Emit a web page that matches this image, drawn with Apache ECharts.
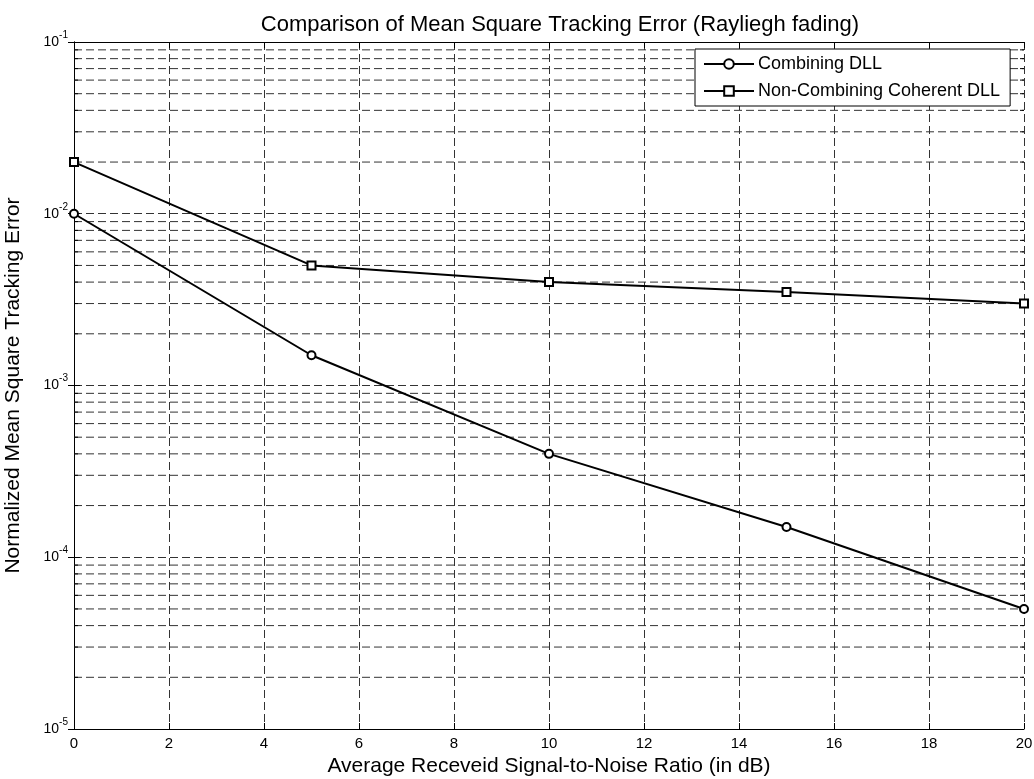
<!DOCTYPE html>
<html>
<head>
<meta charset="utf-8">
<script src="https://cdn.jsdelivr.net/npm/echarts@6/dist/echarts.min.js"></script>
<style>
  html, body { margin: 0; padding: 0; background: #fff; }
  #chart { width: 1034px; height: 779px; }
</style>
</head>
<body>
<div id="chart"></div>
<script>
// SNR sample points (dB)
const snr = [0, 5, 10, 15, 20];
// Normalized mean square tracking error
const combiningDLL = [1.0e-2, 1.5e-3, 4.0e-4, 1.5e-4, 5.0e-5];
const nonCombiningDLL = [2.0e-2, 5.0e-3, 4.0e-3, 3.5e-3, 3.0e-3];
// Axis ticks
const xTicks = [0, 2, 4, 6, 8, 10, 12, 14, 16, 18, 20];
const yDecades = [-5, -4, -3, -2, -1];
const minorMultipliers = [2, 3, 4, 5, 6, 7, 8, 9];

const FONT = 'Liberation Sans, Arial, Helvetica, sans-serif';
const X_MIN = 0, X_MAX = 20;

// minor grid levels 2..9 x 10^k within each decade
const minorLevels = [];
for (let i = 0; i < yDecades.length - 1; i++) {
  for (const m of minorMultipliers) {
    minorLevels.push(m * Math.pow(10, yDecades[i]));
  }
}

const GRID_COLOR = '#333';
const DASH = [8, 4];
const dashStyle = { color: GRID_COLOR, width: 1, type: DASH };

const chart = echarts.init(document.getElementById('chart'), null, { renderer: 'canvas' });

const toPairs = (ys) => snr.map((x, i) => [x, ys[i]]);

// dashed minor grid line across the plot plus short inside ticks at both sides
function renderMinor(params, api) {
  const v = api.value(1);
  const a = api.coord([X_MIN, v]);
  const b = api.coord([X_MAX, v]);
  const tick = 4;
  return {
    type: 'group',
    children: [{
      type: 'line',
      shape: { x1: a[0], y1: a[1], x2: b[0], y2: b[1] },
      style: { stroke: GRID_COLOR, lineWidth: 1, lineDash: DASH }
    }, {
      type: 'line',
      shape: { x1: a[0], y1: a[1], x2: a[0] + tick, y2: a[1] },
      style: { stroke: '#000', lineWidth: 1 }
    }, {
      type: 'line',
      shape: { x1: b[0] - tick, y1: b[1], x2: b[0], y2: b[1] },
      style: { stroke: '#000', lineWidth: 1 }
    }]
  };
}

chart.setOption({
  animation: false,
  backgroundColor: '#fff',
  title: {
    text: 'Comparison of Mean Square Tracking Error (Rayliegh fading)',
    left: 555, top: 9, textAlign: 'center',
    textStyle: { fontFamily: FONT, fontSize: 22, fontWeight: 'normal', color: '#000' }
  },
  legend: {
    left: 695, top: 49, z: 20,
    orient: 'vertical',
    itemWidth: 50, itemHeight: 12, itemGap: 9,
    padding: [6, 10, 6, 8],
    backgroundColor: '#fff',
    borderColor: '#000', borderWidth: 1,
    textStyle: { fontFamily: FONT, fontSize: 18, color: '#000', padding: [0, 0, 0, -1] },
    data: ['Combining DLL', 'Non-Combining Coherent DLL']
  },
  grid: { left: 74, right: 10, top: 42, bottom: 50, containLabel: false, outerBoundsMode: 'none' },
  xAxis: [{
    type: 'value', min: X_MIN, max: X_MAX, interval: 2,
    name: 'Average Receveid Signal-to-Noise Ratio (in dB)',
    nameLocation: 'middle', nameGap: 24,
    nameTextStyle: { fontFamily: FONT, fontSize: 21, color: '#000' },
    axisLine: { lineStyle: { color: '#000', width: 1 } },
    axisTick: { inside: true, length: 6, lineStyle: { color: '#000' } },
    axisLabel: { fontFamily: FONT, fontSize: 15, color: '#000', margin: 7 },
    splitLine: { show: true, lineStyle: dashStyle }
  }, {
    type: 'value', min: X_MIN, max: X_MAX, interval: 2, position: 'top',
    axisLine: { show: true, lineStyle: { color: '#000', width: 1 } },
    axisTick: { inside: true, length: 6, lineStyle: { color: '#000' } },
    axisLabel: { show: false },
    splitLine: { show: false }
  }],
  yAxis: [{
    type: 'log', logBase: 10, min: 1e-5, max: 1e-1,
    name: 'Normalized Mean Square Tracking Error',
    nameLocation: 'middle', nameGap: 50,
    nameTextStyle: { fontFamily: FONT, fontSize: 21, color: '#000' },
    axisLine: { show: true, lineStyle: { color: '#000', width: 1 } },
    axisTick: { inside: true, length: 6, lineStyle: { color: '#000' } },
    axisLabel: {
      margin: 6,
      formatter: (v) => '{b|10}{s|' + Math.round(Math.log10(v)) + '}',
      rich: {
        b: { fontFamily: FONT, fontSize: 14, color: '#000' },
        s: { fontFamily: FONT, fontSize: 10, color: '#000', padding: [0, 0, 14, 0] }
      }
    },
    splitLine: { show: true, lineStyle: dashStyle }
  }, {
    type: 'log', logBase: 10, min: 1e-5, max: 1e-1, position: 'right',
    axisLine: { show: true, lineStyle: { color: '#000', width: 1 } },
    axisTick: { inside: true, length: 6, lineStyle: { color: '#000' } },
    axisLabel: { show: false },
    splitLine: { show: false }
  }],
  series: [{
    name: 'minor-grid',
    type: 'custom',
    silent: true,
    z: 1,
    clip: true,
    data: minorLevels.map((v) => [X_MIN, v]),
    encode: { x: 0, y: 1 },
    renderItem: renderMinor,
    tooltip: { show: false }
  }, {
    name: 'Combining DLL',
    type: 'line',
    data: toPairs(combiningDLL),
    symbol: 'circle', symbolSize: 8,
    lineStyle: { color: '#000', width: 2 },
    itemStyle: { color: '#fff', borderColor: '#000', borderWidth: 2 },
    z: 5
  }, {
    name: 'Non-Combining Coherent DLL',
    type: 'line',
    data: toPairs(nonCombiningDLL),
    symbol: 'rect', symbolSize: 8,
    lineStyle: { color: '#000', width: 2 },
    itemStyle: { color: '#fff', borderColor: '#000', borderWidth: 2 },
    z: 5
  }]
});
</script>
</body>
</html>
